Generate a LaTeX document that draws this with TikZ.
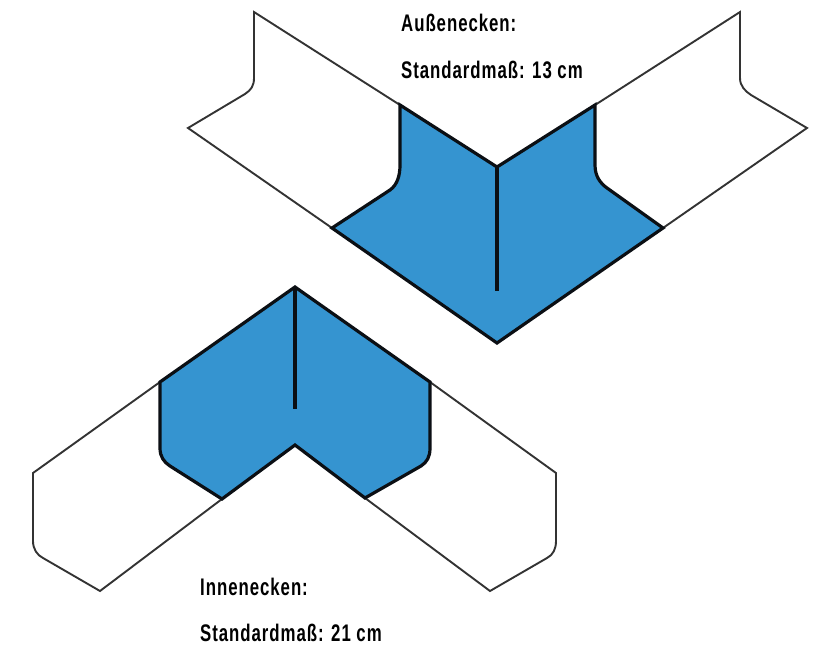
\documentclass[tikz,border=0pt]{standalone}
\usepackage{fontspec}
\setmainfont[FakeStretch=0.7,LetterSpace=4]{Liberation Sans}
\definecolor{capblue}{HTML}{3594D0}
\definecolor{edgegrey}{HTML}{333333}
\definecolor{edgeblack}{HTML}{0B0F14}
\tikzset{
  stripshape/.style={draw=edgegrey,line width=1.9pt,line join=miter,fill=white},
  capshape/.style={draw=edgeblack,line width=3.2pt,line join=miter,fill=capblue},
  seam/.style={draw=edgeblack,line width=3.2pt},
  caption/.style={anchor=base west,inner sep=0pt,font=\fontsize{24}{26}\selectfont\bfseries,text=black}
}
\begin{document}
\begin{tikzpicture}[x=1pt,y=-1pt]
\useasboundingbox (0,0) rectangle (819,645);
% top piece: white strips
\path[stripshape] (400,105) -- (254,12) -- (254,78) .. controls (254,86) and (251,90) .. (245,94) -- (188,128) -- (332,228);
\path[stripshape] (595,105) -- (740,12) -- (740,78) .. controls (740,86) and (745,91) .. (751,95) -- (807,128) -- (663,228);
% top piece: cap
\path[capshape] (400,105) -- (497,167) -- (595,105) -- (595,165) .. controls (595,176) and (600,183) .. (607,188) -- (663,228) -- (497,343) -- (332,228) -- (390,190) .. controls (397,185) and (400,176) .. (400,165) -- cycle;
\draw[seam] (497,167) -- (497,291);
% bottom piece: white strips
\path[stripshape] (160,382) -- (33,473) -- (33,541) .. controls (33,549) and (37,555) .. (43,558) -- (100,591) -- (222,499);
\path[stripshape] (430,382) -- (556,473) -- (556,541) .. controls (556,549) and (553,555) .. (547,558) -- (490,591) -- (365,498);
% bottom piece: cap
\path[capshape] (295,287) -- (430,382) -- (430,448) .. controls (430,457) and (427,462) .. (421,466) -- (365,498) -- (295,445) -- (222,499) -- (170,466) .. controls (164,462) and (160,457) .. (160,448) -- (160,382) -- cycle;
\draw[seam] (295,287) -- (295,409);
% labels
\node[caption] (t1) at (401,31) {Außenecken:};
\node[caption] (t2) at (401,78) {Standardmaß: 13 cm};
\node[caption] (t3) at (200,595) {Innenecken:};
\node[caption] (t4) at (200,641) {Standardmaß: 21 cm};
\end{tikzpicture}
\end{document}
